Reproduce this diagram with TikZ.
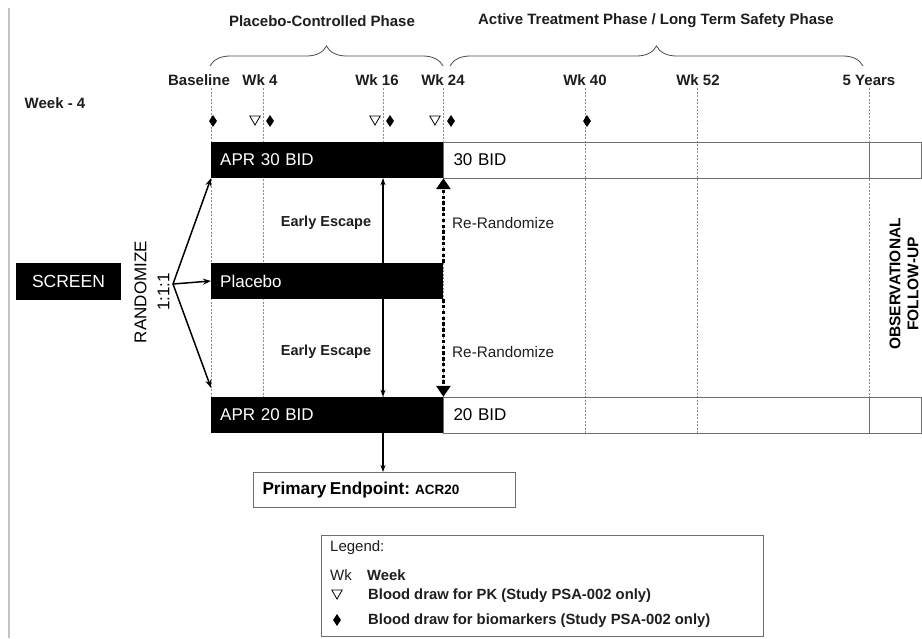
\documentclass[tikz,border=0pt]{standalone}
\usepackage{fontspec}
\setmainfont{Liberation Sans}
\usetikzlibrary{positioning,arrows.meta,calc,shapes.geometric,decorations.pathreplacing}
\definecolor{tGrid}{HTML}{8C8C8C}
\definecolor{tBorder}{HTML}{6E6E6E}
\definecolor{tRule}{HTML}{C4C4C4}
\definecolor{tInk}{HTML}{1E1E1E}
\tikzset{
 armbar/.style={fill=black, text=white, anchor=west, minimum height=36pt, text width=214pt, inner xsep=9pt, inner ysep=0pt, align=left, font=\fontsize{17}{19}\selectfont},
 dosebox/.style={draw=tBorder, line width=1pt, anchor=west, minimum height=36pt, text width=458pt, inner xsep=10pt, inner ysep=0pt, align=left, font=\fontsize{17}{19}\selectfont},
 wklabel/.style={font=\fontsize{15}{17}\selectfont\bfseries, text=tInk, inner sep=0pt},
 wkline/.style={tGrid, line width=0.8pt, dash pattern=on 2pt off 1.5pt},
 phasetitle/.style={font=\fontsize{15}{17}\selectfont\bfseries, text=tInk, inner sep=0pt},
 phasebrace/.style={decorate, decoration={brace, amplitude=20pt}, tInk!80, line width=0.8pt},
 bmmark/.style={diamond, fill=black, inner sep=0pt, minimum width=8pt, minimum height=12pt},
 pkmark/.style={regular polygon, regular polygon sides=3, shape border rotate=180, draw=black, line width=0.8pt, inner sep=0pt, minimum size=12pt},
 randarrow/.style={-{Stealth[length=8pt,width=6pt]}, line width=1.5pt},
 escarrow/.style={-{Stealth[length=7pt,width=5pt]}, line width=1.3pt},
 rerand/.style={-{Triangle[length=11pt,width=14pt]}, line width=3.4pt, dash pattern=on 3.4pt off 2.4pt},
 escname/.style={font=\fontsize{14.5}{16}\selectfont\bfseries, text=tInk, inner sep=0pt},
 rerandname/.style={font=\fontsize{15.3}{17}\selectfont, text=tInk, inner sep=0pt, anchor=west},
 legtext/.style={font=\fontsize{14.8}{16}\selectfont\bfseries, text=tInk, inner sep=0pt, anchor=west}
}

\begin{document}
\begin{tikzpicture}[x=1pt, y=-1pt]
\useasboundingbox (0,0) rectangle (922,638);
\draw[tRule, line width=1.5pt] (9,8) -- (9,638);

% phases
\node[phasetitle] (pcphase) at (322,21) {Placebo-Controlled Phase};
\node[phasetitle] (atphase) at (656,21) {Active Treatment Phase / Long Term Safety Phase};
\draw[phasebrace] (210,66) -- (443,66);
\draw[phasebrace] (450,66) -- (863,66);

% weeks
\node[wklabel] (wkmin) at (55,103) {Week - 4};
\node[wklabel] (lbase) at (199,80) {Baseline};
\node[wklabel] (lfour) at (260,80) {Wk 4};
\node[wklabel] (lsixteen) at (377,80) {Wk 16};
\node[wklabel] (ltwentyfour) at (443,80) {Wk 24};
\node[wklabel] (lforty) at (585,80) {Wk 40};
\node[wklabel] (lfiftytwo) at (698,80) {Wk 52};
\node[wklabel] (lfiveyr) at (869,80) {5 Years};
\foreach \x/\nm in {211/base,263/four,383/sixteen,443/twentyfour,585/forty,697/fiftytwo,869/fiveyr} {
 \coordinate (\nm-top) at (\x,88);
 \coordinate (\nm-bot) at (\x,433);
 \draw[wkline] (\nm-top) -- (\nm-bot);
}

% blood draws
\node[bmmark] (bmbase) at (213,121) {};
\node[pkmark] (pkfour) at (255,119) {};
\node[bmmark] (bmfour) at (270,121) {};
\node[pkmark] (pksixteen) at (375,119) {};
\node[bmmark] (bmsixteen) at (390,121) {};
\node[pkmark] (pktwentyfour) at (435,119) {};
\node[bmmark] (bmtwentyfour) at (451,121) {};
\node[bmmark] (bmforty) at (587,121) {};

% arms
\node[armbar] (apr30) at (211,160) {APR 30 BID};
\node[armbar] (placebo) at (211,281) {Placebo};
\node[armbar] (apr20) at (211,415) {APR 20 BID};
\node[dosebox] (dose30) at (443,160) {30 BID};
\node[dosebox] (dose20) at (443,415) {20 BID};
\draw[tBorder, line width=1pt] (dose30.north -| fiveyr-top) -- (dose30.south -| fiveyr-top);
\draw[tBorder, line width=1pt] (dose20.north -| fiveyr-top) -- (dose20.south -| fiveyr-top);

\node[fill=black, text=white, minimum width=105pt, minimum height=37pt, inner sep=0pt, font=\fontsize{17.5}{19}\selectfont] (screen) at (68.5,281.5) {SCREEN};
\node[rotate=90, align=center, font=\fontsize{17}{23}\selectfont, inner sep=0pt] (randomize) at (152,292) {RANDOMIZE\\1:1:1};
\coordinate (rnd) at (173,284);
\draw[randarrow] (rnd) -- (apr30.south west);
\draw[randarrow] (rnd) -- (placebo.west);
\draw[randarrow] (rnd) -- ([yshift=9pt]apr20.north west);

% early escape / re-randomize
\coordinate (esc) at (383,0);
\draw[escarrow] (placebo.north -| esc) -- (apr30.south -| esc);
\draw[escarrow] (placebo.south -| esc) -- (apr20.north -| esc);
\node[escname] (escup) at (326,223) {Early Escape};
\node[escname] (escdown) at (326,352) {Early Escape};
\draw[rerand] (placebo.north east) -- (apr30.south east);
\draw[rerand] (placebo.south east) -- (apr20.north east);
\node[rerandname] (rerup) at (452,223) {Re-Randomize};
\node[rerandname] (rerdown) at (452,352) {Re-Randomize};

\node[rotate=90, align=center, font=\fontsize{15.5}{18}\selectfont\bfseries, inner sep=0pt] (obsfu) at (904,284) {OBSERVATIONAL\\FOLLOW-UP};

% endpoint
\node[draw=tBorder, line width=1pt, anchor=north west, minimum height=35pt, text width=244pt, inner xsep=9pt, inner ysep=0pt, align=left] (primary) at (253,472) {{\fontsize{17.2}{20}\selectfont\bfseries Primary Endpoint:} {\fontsize{13.5}{15}\selectfont\bfseries ACR20}};
\draw[escarrow] (apr20.south -| esc) -- (primary.north -| esc);

% legend
\node[draw=tBorder, line width=1.3pt, anchor=north west, minimum width=442pt, minimum height=101pt, inner sep=0pt] (legend) at (321,535) {};
\node[legtext, font=\fontsize{15}{16}\selectfont] (legtitle) at (330,548) {Legend:};
\node[legtext, font=\fontsize{15}{16}\selectfont] (legwk) at (330,575) {Wk};
\node[legtext] (legweek) at (367,575) {Week};
\node[pkmark] (legpk) at (337,593) {};
\node[legtext] (legpktext) at (368,596) {Blood draw for PK (Study PSA-002 only)};
\node[bmmark] (legbm) at (337,620) {};
\node[legtext] (legbmtext) at (368,621) {Blood draw for biomarkers (Study PSA-002 only)};
\end{tikzpicture}
\end{document}
